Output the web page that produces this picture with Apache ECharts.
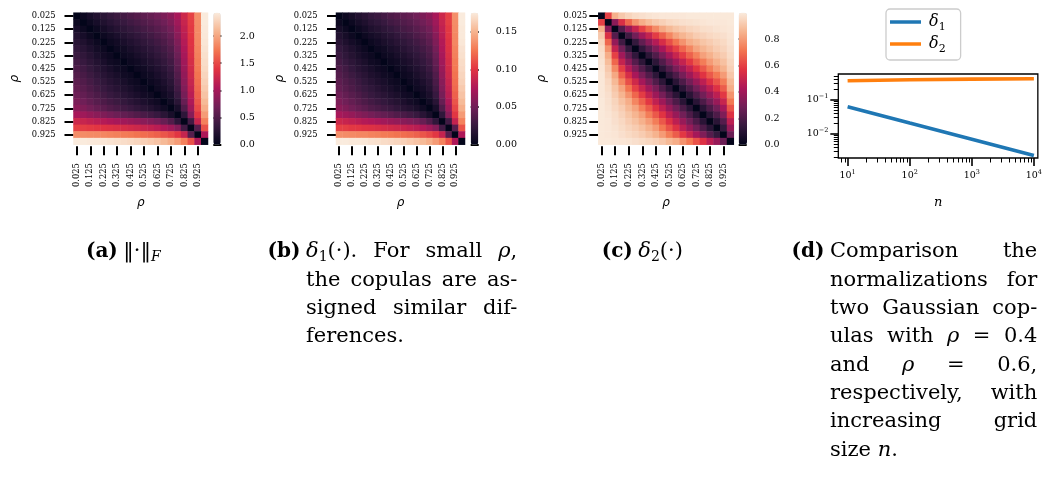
<!DOCTYPE html>
<html><head><meta charset="utf-8">
<script src="https://cdn.jsdelivr.net/npm/echarts@6/dist/echarts.min.js"></script>
<style>html,body{margin:0;padding:0;background:#fff}#c{width:1045px;height:482px}</style>
</head><body><div id="c"></div>
<script>
// ---------------- DATA ----------------
const rhoLabels = ['0.025','0.075','0.125','0.175','0.225','0.275','0.325','0.375','0.425','0.475',
                   '0.525','0.575','0.625','0.675','0.725','0.775','0.825','0.875','0.925','0.975'];

// Upper triangles of the symmetric matrices: column j holds rows 0..j-1 (diagonal = 0)
const normF = [
 [],
 [0.07],
 [0.14,0.07],
 [0.21,0.14,0.07],
 [0.27,0.20,0.13,0.07],
 [0.33,0.26,0.19,0.12,0.07],
 [0.38,0.31,0.24,0.17,0.11,0.07],
 [0.43,0.36,0.29,0.22,0.16,0.10,0.07],
 [0.48,0.41,0.34,0.27,0.21,0.15,0.10,0.07],
 [0.53,0.46,0.39,0.32,0.26,0.20,0.15,0.10,0.07],
 [0.58,0.51,0.44,0.37,0.31,0.25,0.20,0.15,0.10,0.07],
 [0.63,0.56,0.49,0.42,0.36,0.30,0.25,0.20,0.15,0.10,0.07],
 [0.69,0.62,0.55,0.48,0.42,0.36,0.31,0.26,0.21,0.16,0.11,0.08],
 [0.76,0.69,0.62,0.55,0.49,0.43,0.38,0.33,0.28,0.23,0.18,0.13,0.09],
 [0.85,0.78,0.71,0.64,0.58,0.52,0.47,0.42,0.37,0.32,0.27,0.22,0.16,0.10],
 [1.02,0.96,0.90,0.84,0.78,0.72,0.67,0.62,0.57,0.52,0.47,0.42,0.36,0.27,0.15],
 [1.25,1.21,1.17,1.13,1.09,1.05,1.01,0.97,0.93,0.89,0.84,0.79,0.73,0.64,0.52,0.30],
 [1.46,1.44,1.42,1.40,1.38,1.36,1.34,1.31,1.28,1.25,1.21,1.17,1.12,1.05,0.96,0.82,0.42],
 [1.87,1.86,1.85,1.84,1.83,1.81,1.79,1.77,1.75,1.72,1.69,1.66,1.62,1.57,1.50,1.40,1.20,0.55],
 [2.43,2.43,2.42,2.41,2.40,2.38,2.36,2.34,2.32,2.29,2.26,2.22,2.18,2.12,2.05,1.95,1.80,1.55,1.05]
];
const delta1Mat = [
 [],
 [0.005],
 [0.010,0.005],
 [0.015,0.010,0.005],
 [0.019,0.014,0.009,0.005],
 [0.024,0.019,0.014,0.009,0.005],
 [0.027,0.022,0.017,0.012,0.008,0.005],
 [0.031,0.026,0.021,0.016,0.012,0.007,0.005],
 [0.035,0.030,0.024,0.019,0.015,0.011,0.007,0.005],
 [0.038,0.033,0.028,0.023,0.019,0.014,0.011,0.007,0.005],
 [0.042,0.037,0.032,0.027,0.022,0.018,0.014,0.011,0.007,0.005],
 [0.045,0.040,0.035,0.030,0.026,0.022,0.018,0.014,0.011,0.007,0.005],
 [0.050,0.045,0.040,0.035,0.030,0.026,0.022,0.019,0.015,0.012,0.008,0.006],
 [0.055,0.050,0.045,0.040,0.035,0.031,0.027,0.024,0.020,0.017,0.013,0.009,0.006],
 [0.061,0.056,0.051,0.046,0.042,0.037,0.034,0.030,0.027,0.023,0.019,0.016,0.012,0.007],
 [0.073,0.069,0.065,0.060,0.056,0.052,0.048,0.045,0.041,0.037,0.034,0.030,0.026,0.019,0.011],
 [0.090,0.087,0.084,0.081,0.078,0.076,0.073,0.070,0.067,0.064,0.060,0.057,0.053,0.046,0.037,0.022],
 [0.105,0.104,0.102,0.101,0.099,0.098,0.096,0.094,0.092,0.090,0.087,0.084,0.081,0.076,0.069,0.059,0.030],
 [0.135,0.134,0.133,0.132,0.132,0.130,0.129,0.127,0.126,0.124,0.122,0.120,0.117,0.113,0.108,0.101,0.086,0.040],
 [0.175,0.175,0.174,0.174,0.173,0.171,0.170,0.168,0.167,0.165,0.163,0.160,0.157,0.153,0.148,0.140,0.130,0.112,0.076]
];
const delta2Mat = [
 [],
 [0.60],
 [0.85,0.35],
 [0.91,0.55,0.22],
 [0.94,0.68,0.37,0.17],
 [0.96,0.78,0.49,0.29,0.14],
 [0.97,0.84,0.60,0.40,0.25,0.13],
 [0.98,0.88,0.68,0.49,0.35,0.22,0.12],
 [0.985,0.91,0.76,0.59,0.45,0.32,0.21,0.12],
 [0.99,0.93,0.83,0.67,0.54,0.42,0.31,0.21,0.12],
 [0.99,0.95,0.87,0.75,0.63,0.52,0.41,0.31,0.21,0.12],
 [0.99,0.96,0.90,0.82,0.71,0.60,0.50,0.40,0.31,0.20,0.11],
 [0.99,0.97,0.92,0.86,0.78,0.68,0.59,0.49,0.39,0.30,0.20,0.11],
 [0.995,0.975,0.94,0.89,0.84,0.75,0.67,0.58,0.48,0.39,0.29,0.20,0.11],
 [0.995,0.98,0.95,0.92,0.87,0.82,0.74,0.66,0.57,0.48,0.38,0.29,0.20,0.11],
 [0.995,0.985,0.965,0.935,0.90,0.86,0.81,0.73,0.65,0.57,0.47,0.38,0.29,0.20,0.11],
 [0.995,0.99,0.97,0.95,0.92,0.89,0.85,0.80,0.73,0.65,0.56,0.47,0.38,0.29,0.20,0.11],
 [0.995,0.99,0.98,0.96,0.94,0.92,0.89,0.85,0.80,0.72,0.64,0.56,0.47,0.38,0.29,0.20,0.11],
 [0.995,0.99,0.985,0.97,0.955,0.94,0.92,0.89,0.855,0.80,0.73,0.66,0.58,0.50,0.41,0.32,0.22,0.14],
 [0.995,0.995,0.99,0.985,0.98,0.97,0.96,0.945,0.93,0.905,0.87,0.84,0.78,0.72,0.64,0.56,0.47,0.38,0.27]
];

const cbMax = [2.43, 0.175, 1.0];
const cbTicks = [[0,0.5,1.0,1.5,2.0],[0,0.05,0.10,0.15],[0,0.2,0.4,0.6,0.8]];
const cbDecimals = [1,2,1];

// line chart (d)
const gridSizes = [10, 100, 1000, 10000];
const delta1Line = [0.062, 0.0205, 0.0069, 0.0023];
const delta2Line = [0.360, 0.385, 0.403, 0.413];
const xMajor = [10, 100, 1000, 10000];
const xMinor = [8,9,20,30,40,50,60,70,80,90,200,300,400,500,600,700,800,900,2000,3000,4000,5000,6000,7000,8000,9000];
const yMajor = [0.01, 0.1];
const yMinor = [0.002,0.003,0.004,0.005,0.006,0.007,0.008,0.009,0.02,0.03,0.04,0.05,0.06,0.07,0.08,0.09,0.2,0.3,0.4,0.5];

// ---------------- STYLE / LAYOUT ----------------
const rocket = ['#03051A','#35193E','#701F57','#AD1759','#E13342','#F37651','#F6B48F','#FAEBDD'];
const HEAT_TOP = 12.7, HEAT_H = 132;
const HEAT = [
  {left:73.5, width:134.5, cbLeft:213.3, cbWidth:7.4, yMargin:18, yNameGap:53, cbMargin:19},
  {left:336, width:129, cbLeft:470.7, cbWidth:7.6, yMargin:18.5, yNameGap:50, cbMargin:17.5},
  {left:598.3, width:135.5, cbLeft:738.7, cbWidth:8.3, yMargin:11, yNameGap:50, cbMargin:17.5}
];
const LINE_GRID = {left:838.3, top:74, width:201.7, height:84};
const X_MIN = 7.08, X_MAX = 11580, Y_MIN = 0.00193, Y_MAX = 0.570;
const SERIF = 'DejaVu Serif';

function fullData(upper){
  const n = rhoLabels.length, out = [];
  for (let i=0;i<n;i++) for (let j=0;j<n;j++){
    const v = i===j ? 0 : (i<j ? upper[j][i] : upper[i][j]);
    out.push([j, i, v]);
  }
  return out;
}
const mats = [normF, delta1Mat, delta2Mat];

const grids = [], xAxes = [], yAxes = [], series = [], visualMaps = [];
HEAT.forEach((h,k)=>{
  grids.push({left:h.left, top:HEAT_TOP, width:h.width, height:HEAT_H});
  xAxes.push({gridIndex:k, type:'category', data:rhoLabels, position:'bottom', offset:1.5,
    axisLine:{show:false},
    axisTick:{show:true, interval:1, alignWithLabel:true, length:9, lineStyle:{color:'#000', width:2}},
    axisLabel:{interval:1, rotate:90, margin:17, fontFamily:SERIF, fontSize:8.3, color:'#000'},
    splitLine:{show:false},
    name:'ρ', nameLocation:'middle', nameGap:51,
    nameTextStyle:{fontFamily:'DejaVu Sans', fontStyle:'italic', fontSize:12, color:'#000'}});
  yAxes.push({gridIndex:k, type:'category', data:rhoLabels, inverse:true, position:'left',
    axisLine:{show:false},
    axisTick:{show:true, interval:1, alignWithLabel:true, length:9, lineStyle:{color:'#000', width:2}},
    axisLabel:{interval:1, margin:h.yMargin, fontFamily:SERIF, fontSize:8.3, color:'#000'},
    splitLine:{show:false},
    name:'ρ', nameLocation:'middle', nameGap:h.yNameGap, nameRotate:90,
    nameTextStyle:{fontFamily:'DejaVu Sans', fontStyle:'italic', fontSize:12, color:'#000'}});
  series.push({type:'heatmap', xAxisIndex:k, yAxisIndex:k, data:fullData(mats[k]),
    itemStyle:{borderWidth:0}, emphasis:{disabled:true}, progressive:0, silent:true});
  visualMaps.push({type:'continuous', seriesIndex:k, min:0, max:cbMax[k], inRange:{color:rocket},
    orient:'vertical', left:h.cbLeft, top:HEAT_TOP, itemWidth:h.cbWidth, itemHeight:HEAT_H,
    padding:0, calculable:false, hoverLink:false, realtime:false, text:null, show:true});
});
// colorbar axes
HEAT.forEach((h,k)=>{
  const gi = grids.length;
  grids.push({left:h.cbLeft, top:HEAT_TOP, width:h.cbWidth, height:HEAT_H});
  xAxes.push({gridIndex:gi, type:'value', show:false, min:0, max:1});
  yAxes.push({gridIndex:gi, type:'value', position:'right', min:0, max:cbMax[k],
    axisLine:{show:false}, splitLine:{show:false},
    axisTick:{show:true, customValues:cbTicks[k], length:8, lineStyle:{color:'#000', width:2}},
    axisLabel:{show:true, customValues:cbTicks[k], margin:h.cbMargin, fontFamily:SERIF, fontSize:9.5, color:'#000',
      formatter:v=>Number(v).toFixed(cbDecimals[k])}});
});
// line chart
const LG = grids.length;
grids.push(Object.assign({show:true, borderColor:'#000', borderWidth:1.3, backgroundColor:'rgba(0,0,0,0)'}, LINE_GRID));
function powLabel(v){
  const e = Math.round(Math.log10(v));
  return '{b|10}{s|' + (e<0 ? '−'+(-e) : e) + '}';
}
const powRich = {
  b:{fontFamily:SERIF, fontSize:9.5, color:'#000', lineHeight:14},
  s:{fontFamily:SERIF, fontSize:6.5, color:'#000', lineHeight:7, verticalAlign:'top'}
};
const LX = xAxes.length;
xAxes.push({gridIndex:LG, type:'log', logBase:10, min:X_MIN, max:X_MAX, position:'bottom',
  axisLine:{show:false}, splitLine:{show:false},
  axisTick:{show:true, customValues:xMajor, length:8, lineStyle:{color:'#000', width:1.6}},
  axisLabel:{show:true, customValues:xMajor, margin:11, formatter:powLabel, rich:powRich},
  name:'n', nameLocation:'middle', nameGap:38,
  nameTextStyle:{fontFamily:SERIF, fontStyle:'italic', fontSize:13, color:'#000'}});
xAxes.push({gridIndex:LG, type:'log', logBase:10, min:X_MIN, max:X_MAX, position:'bottom',
  axisLine:{show:false}, splitLine:{show:false},
  axisTick:{show:true, customValues:xMinor, length:4.5, lineStyle:{color:'#000', width:1}},
  axisLabel:{show:false}});
const LY = yAxes.length;
yAxes.push({gridIndex:LG, type:'log', logBase:10, min:Y_MIN, max:Y_MAX, position:'left',
  axisLine:{show:false}, splitLine:{show:false},
  axisTick:{show:true, customValues:yMajor, length:8, lineStyle:{color:'#000', width:1.6}},
  axisLabel:{show:true, customValues:yMajor, margin:10, formatter:powLabel, rich:powRich}});
yAxes.push({gridIndex:LG, type:'log', logBase:10, min:Y_MIN, max:Y_MAX, position:'left',
  axisLine:{show:false}, splitLine:{show:false},
  axisTick:{show:true, customValues:yMinor, length:4.5, lineStyle:{color:'#000', width:1}},
  axisLabel:{show:false}});

series.push({type:'line', name:'δ1', xAxisIndex:LX, yAxisIndex:LY,
  data:gridSizes.map((n,i)=>[n, delta1Line[i]]), showSymbol:false, symbol:'none', silent:true,
  lineStyle:{width:3.6, color:'#1f77b4'}, itemStyle:{color:'#1f77b4'}});
series.push({type:'line', name:'δ2', xAxisIndex:LX, yAxisIndex:LY,
  data:gridSizes.map((n,i)=>[n, delta2Line[i]]), showSymbol:false, symbol:'none', silent:true,
  lineStyle:{width:3.6, color:'#ff7f0e'}, itemStyle:{color:'#ff7f0e'}});

// ---------------- CAPTIONS ----------------
const FS = 21, FS_SUB = 14, FS_LAB = 20, SUB_DY = 5.5;
const R = t=>({t, k:'r'}), I = t=>({t, k:'i'}), S = t=>({t, k:'s'}), SI = t=>({t, k:'si'});
const P = str=>str.split(' ').map(w=>[R(w)]);
const captions = [
  {label:'(a)', x0:123.3, x1:null, lines:[{w:[[R('‖·‖'), SI('F')]], j:false}]},
  {label:'(b)', x0:306, x1:517.3, lines:[
    {w:[[I('δ'),S('1'),R('(·).')],[R('For')],[R('small')],[I('ρ'),R(',')]], j:true},
    {w:P('the copulas are as-'), j:true},
    {w:P('signed similar dif-'), j:true},
    {w:P('ferences.'), j:false}]},
  {label:'(c)', x0:638.3, x1:null, lines:[{w:[[I('δ'),S('2'),R('(·)')]], j:false}]},
  {label:'(d)', x0:830, x1:1037.3, lines:[
    {w:P('Comparison the'), j:true},
    {w:P('normalizations for'), j:true},
    {w:P('two Gaussian cop-'), j:true},
    {w:[[R('ulas')],[R('with')],[I('ρ')],[R('=')],[R('0.4')]], j:true},
    {w:[[R('and')],[I('ρ')],[R('=')],[R('0.6,')]], j:true},
    {w:P('respectively, with'), j:true},
    {w:P('increasing grid'), j:true},
    {w:[[R('size')],[I('n'),R('.')]], j:false}]}
];
const CAP_Y0 = 251.7, CAP_LH = 28.35;
const mctx = document.createElement('canvas').getContext('2d');
function segStyle(seg){
  return {fontFamily:SERIF, fontSize:(seg.k==='s'||seg.k==='si')?FS_SUB:FS,
          fontStyle:(seg.k==='i'||seg.k==='si')?'italic':'normal', fontWeight:'normal'};
}
function measure(text, st){
  mctx.font = st.fontStyle+' '+st.fontWeight+' '+st.fontSize+'px "'+st.fontFamily+'"';
  return mctx.measureText(text).width;
}
const graphics = [];
const spaceW = measure(' ', {fontFamily:SERIF, fontSize:FS, fontStyle:'normal', fontWeight:'normal'});
captions.forEach(c=>{
  graphics.push({type:'text', x:c.x0-5.5, y:CAP_Y0, silent:true,
    style:{text:c.label, fontFamily:SERIF, fontSize:FS_LAB, fontWeight:'bold', fill:'#000',
           align:'right', verticalAlign:'middle'}});
  c.lines.forEach((ln,li)=>{
    const y = CAP_Y0 + li*CAP_LH;
    const widths = ln.w.map(word=>word.reduce((s,seg)=>s+measure(seg.t, segStyle(seg)),0));
    const total = widths.reduce((a,b)=>a+b,0);
    let gap = spaceW;
    if (ln.j && ln.w.length>1 && c.x1!==null) gap = Math.max(spaceW*0.6, (c.x1-c.x0-total)/(ln.w.length-1));
    let x = c.x0;
    ln.w.forEach((word,wi)=>{
      let sx = x;
      word.forEach(seg=>{
        const st = segStyle(seg);
        const sub = (seg.k==='s'||seg.k==='si');
        graphics.push({type:'text', x:sx, y:y+(sub?SUB_DY:0), silent:true,
          style:Object.assign({text:seg.t, fill:'#000', align:'left', verticalAlign:'middle'}, st)});
        sx += measure(seg.t, st);
      });
      x += widths[wi] + gap;
    });
  });
});

// ---------------- CHART ----------------
const chart = echarts.init(document.getElementById('c'), null, {renderer:'canvas'});
chart.setOption({
  animation:false,
  backgroundColor:'#ffffff',
  grid:grids, xAxis:xAxes, yAxis:yAxes, visualMap:visualMaps, series:series,
  legend:{show:true, data:['δ1','δ2'], orient:'vertical', left:886, top:9,
    padding:[5,15,5,4], itemGap:3, itemWidth:31, itemHeight:3.5, icon:'rect', selectedMode:false,
    borderColor:'#cccccc', borderWidth:1.3, borderRadius:4, backgroundColor:'#ffffff',
    formatter:name=>'{d|δ}{s|'+name.slice(1)+'}',
    textStyle:{rich:{
      d:{fontFamily:SERIF, fontStyle:'italic', fontSize:16, color:'#000', lineHeight:22, padding:[0,0,0,3]},
      s:{fontFamily:SERIF, fontSize:11, color:'#000', lineHeight:11, verticalAlign:'bottom'}}}},
  tooltip:{show:false},
  graphic:graphics
});
</script></body></html>
